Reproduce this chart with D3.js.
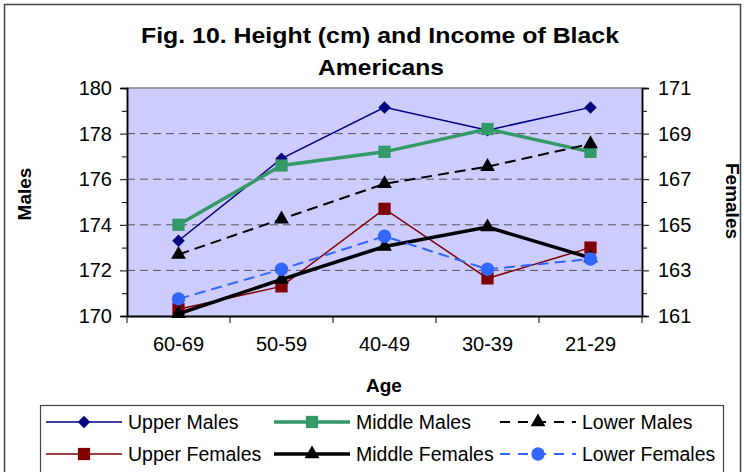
<!DOCTYPE html>
<html><head><meta charset="utf-8">
<script src="https://cdn.jsdelivr.net/npm/d3@7"></script>
<style>body{margin:0;background:#fff;} svg{display:block;font-family:"Liberation Sans",Arial,sans-serif;}</style>
</head><body><svg id="c" width="744" height="472"></svg>
<script>
const categories = ["60-69","50-59","40-49","30-39","21-29"];
const upperMales    = [173.3,176.9,179.15,178.15,179.15];
const middleMales   = [174.0,176.6,177.2,178.2,177.2];
const lowerMales    = [172.7,174.25,175.8,176.55,177.55];
const upperFemales  = [161.3,162.3,165.7,162.65,164.0];
const middleFemales = [161.1,162.6,164.05,164.9,163.55];
const lowerFemales  = [161.75,163.05,164.5,163.05,163.5];
const maleTicks = [170,172,174,176,178,180];
const femaleTicks = [161,163,165,167,169,171];
const seriesNames = ["Upper Males","Middle Males","Lower Males","Upper Females","Middle Females","Lower Females"];

const svg = d3.select("#c");
const L=127, R=642, T=88, B=316;
const x = d3.scaleBand().domain(categories).range([L,R]).padding(0);
const yL = d3.scaleLinear().domain([170,180]).range([B,T]);
const yR = d3.scaleLinear().domain([161,171]).range([B,T]);

// outer border
svg.append("rect").attr("x",4.5).attr("y",4.5).attr("width",736).attr("height",480)
  .attr("fill","none").attr("stroke","#444").attr("stroke-width",1.5);

// title
svg.append("text").attr("x",380).attr("y",43).attr("text-anchor","middle")
  .attr("font-weight","bold").attr("font-size",22).attr("textLength",478).attr("lengthAdjust","spacingAndGlyphs")
  .text("Fig. 10. Height (cm) and Income of Black");
svg.append("text").attr("x",381).attr("y",75).attr("text-anchor","middle")
  .attr("font-weight","bold").attr("font-size",22).attr("textLength",126).attr("lengthAdjust","spacingAndGlyphs")
  .text("Americans");

// plot background
svg.append("rect").attr("x",L).attr("y",T).attr("width",R-L).attr("height",B-T).attr("fill","#CCCCFF");
svg.append("line").attr("x1",L).attr("x2",R).attr("y1",T).attr("y2",T).attr("stroke","#808080").attr("stroke-width",1.5);

// gridlines
svg.append("g").selectAll("line").data(maleTicks.filter(d=>d>170&&d<180)).join("line")
  .attr("x1",L).attr("x2",R).attr("y1",d=>yL(d)).attr("y2",d=>yL(d))
  .attr("stroke","#555").attr("stroke-width",1).attr("stroke-dasharray","8,5");

// axes
const fontTick = 20;
svg.append("g").attr("transform",`translate(${L},0)`)
  .call(d3.axisLeft(yL).tickValues(maleTicks).tickSize(7).tickPadding(8).tickFormat(d3.format("d")));
svg.append("g").attr("transform",`translate(${L},0)`)
  .call(d3.axisLeft(yL).tickValues(d3.range(171,180,2)).tickSize(5).tickFormat(""));
svg.append("g").attr("transform",`translate(${R},0)`)
  .call(d3.axisRight(yR).tickValues(femaleTicks).tickSize(7).tickPadding(9).tickFormat(d3.format("d")));
svg.append("g").attr("transform",`translate(${R},0)`)
  .call(d3.axisRight(yR).tickValues(d3.range(162,171,2)).tickSize(5).tickFormat(""));
const gx = svg.append("g").attr("transform",`translate(0,${B})`)
  .call(d3.axisBottom(x).tickSize(0).tickPadding(21));
// category boundary ticks
const bounds = categories.map(c=>x(c)).concat([R]);
svg.append("g").selectAll("line").data(bounds).join("line")
  .attr("x1",d=>d).attr("x2",d=>d).attr("y1",B).attr("y2",B+7).attr("stroke","#000");
svg.selectAll(".domain").attr("stroke","#000").attr("stroke-width",1.5);
gx.select(".domain").attr("stroke-width",2);
svg.selectAll(".tick line").attr("stroke","#000");
svg.selectAll(".tick text").attr("font-size",fontTick).attr("fill","#000").attr("font-family","Liberation Sans, Arial, sans-serif");

// axis titles
svg.append("text").attr("transform","translate(31,194) rotate(-90)").attr("text-anchor","middle")
  .attr("font-weight","bold").attr("font-size",19).text("Males");
svg.append("text").attr("transform","translate(726,201) rotate(90)").attr("text-anchor","middle")
  .attr("font-weight","bold").attr("font-size",19).text("Females");
svg.append("text").attr("x",384).attr("y",392).attr("text-anchor","middle")
  .attr("font-weight","bold").attr("font-size",19).text("Age");

// series
const styles = [
  {data:upperMales, y:yL, color:"#000080", w:1.5, dash:null, sym:d3.symbolSquare, rot:45, size:78},
  {data:middleMales, y:yL, color:"#339966", w:3.5, dash:null, sym:d3.symbolSquare, rot:0, size:150},
  {data:lowerMales, y:yL, color:"#000000", w:2, dash:"11,6", sym:d3.symbolTriangle, rot:0, size:95},
  {data:upperFemales, y:yR, color:"#800000", w:1.5, dash:null, sym:d3.symbolSquare, rot:0, size:150},
  {data:middleFemales, y:yR, color:"#000000", w:3.5, dash:null, sym:d3.symbolTriangle, rot:0, size:95},
  {data:lowerFemales, y:yR, color:"#3366FF", w:2, dash:"11,6", sym:d3.symbolCircle, rot:0, size:140}
];
const cx = c => x(c) + x.bandwidth()/2;
styles.forEach((s,si)=>{
  const line = d3.line().x((d,i)=>cx(categories[i])).y(d=>s.y(d));
  svg.append("path").datum(s.data).attr("d",line).attr("fill","none")
    .attr("stroke",s.color).attr("stroke-width",s.w).attr("stroke-dasharray",s.dash);
  svg.append("g").selectAll("path").data(s.data).join("path")
    .attr("transform",(d,i)=>`translate(${cx(categories[i])},${s.y(d)}) rotate(${s.rot})`)
    .attr("d",d3.symbol().type(s.sym).size(s.size)).attr("fill",s.color);
});

// legend
svg.append("rect").attr("x",40.5).attr("y",405.5).attr("width",683).attr("height",80)
  .attr("fill","#fff").attr("stroke","#444").attr("stroke-width",1.2);
const colX = [46,274,500], rowY = [422,454];
styles.forEach((s,i)=>{
  const lx = colX[i%3], ly = rowY[Math.floor(i/3)];
  const g = svg.append("g");
  g.append("line").attr("x1",lx).attr("x2",lx+76).attr("y1",ly).attr("y2",ly)
    .attr("stroke",s.color).attr("stroke-width",s.w).attr("stroke-dasharray",s.dash ? "10,8" : null);
  g.append("path").attr("transform",`translate(${lx+38},${ly}) rotate(${s.rot})`).attr("d",d3.symbol().type(s.sym).size(s.size)).attr("fill",s.color);
  g.append("text").attr("x",lx+82).attr("y",ly+7).attr("font-size",19.5).text(seriesNames[i]);
});
</script></body></html>
